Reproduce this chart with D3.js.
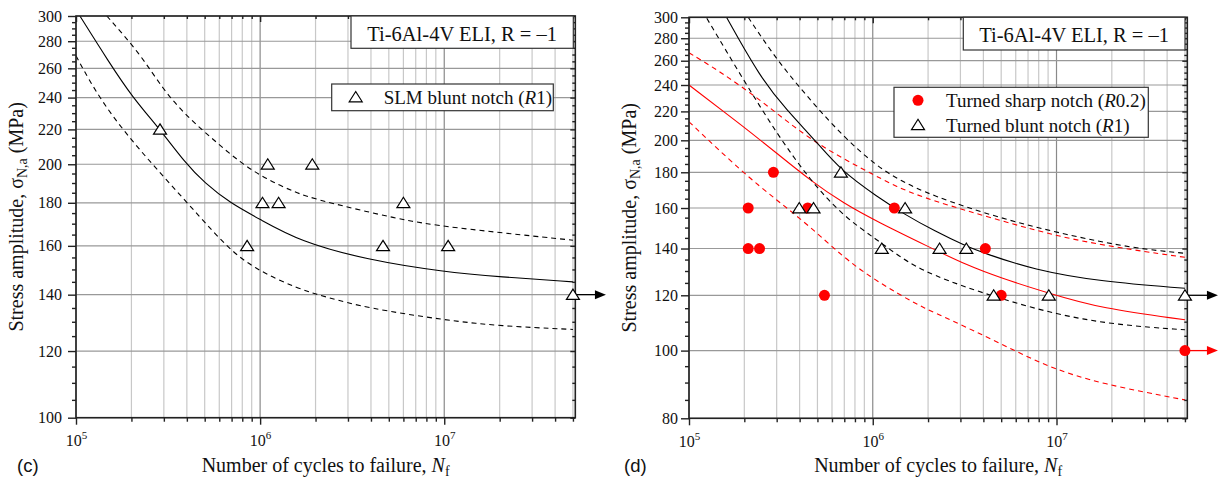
<!DOCTYPE html>
<html>
<head>
<meta charset="utf-8">
<script src="https://cdn.jsdelivr.net/npm/d3@7"></script>
<style>
  body { margin: 0; background: #fff; }
  svg { display: block; }
  text { font-family: "Liberation Serif", "Times New Roman", serif; fill: #111; }
</style>
</head>
<body>
<div id="chart"></div>
<script>
// ---- data ----
var runoutN = 5e7;

// (c) SLM blunt notch (R1)
var slmN = [2.86e5, 1.1e6, 1.92e6, 1.03e6, 1.26e6, 8.5e5, 4.65e6, 1.05e7, 6.0e6, 5e7];
var slmS = [220, 200, 200, 180, 180, 160, 160, 160, 180, 140];
var slmMean  = [[1.05e5,300],[1.5e5,265],[2.03e5,240],[2.86e5,220],[3.9e5,201],[5e5,190],[6.85e5,180],[1e6,172],[1.64e6,162],[3.8e6,154],[1e7,149],[2e7,147],[5e7,145]];
var slmUpper = [[1.47e5,300],[2.22e5,271],[2.98e5,245],[4e5,228],[5.56e5,214],[7.77e5,201],[1.08e6,192],[1.55e6,185.2],[2.02e6,181.5],[5.7e6,172],[1e7,168.5],[5e7,162.5]];
var slmLower = [[1e5,269],[1.35e5,238.5],[2.05e5,212],[3.1e5,191.6],[4.7e5,173.3],[6.57e5,159.7],[9.16e5,150.5],[1.6e6,142.3],[2.3e6,139],[3.8e6,135],[1e7,130.6],[2e7,128.5],[5e7,127.3]];

// (d) Turned sharp notch (R0.2)
var sharpN = [2.1e5, 2.1e5, 2.42e5, 2.88e5, 4.43e5, 5.46e5, 1.31e6, 4.1e6, 5.0e6, 5e7];
var sharpS = [160, 140, 140, 180, 160, 120, 160, 140, 120, 100];
var sharpMean  = [[1e5,240],[1.98e5,209.2],[3e5,191.7],[4.56e5,175.3],[6.93e5,162.5],[1.06e6,152.9],[2.05e6,140.5],[3.25e6,132.5],[4.94e6,127.1],[9.08e6,120.8],[1.75e7,114.9],[5e7,110.7]];
var sharpUpper = [[1e5,266.9],[1.48e5,250.8],[2.44e5,228.5],[3.7e5,209.2],[5.63e5,193.7],[1.06e6,177.3],[1.41e6,170.7],[2.05e6,164.3],[4.94e6,153.5],[1.14e7,144.5],[2.63e7,139.3],[5e7,136]];
var sharpLower = [[1e5,212.6],[1.98e5,179.4],[3e5,164.3],[4.56e5,150.5],[6.93e5,136],[9.7e5,127.5],[1.38e6,120.5],[1.9e6,115],[2.65e6,110.7],[4.94e6,102.4],[9.08e6,94.6],[1.75e7,89.6],[5e7,85]];

// (d) Turned blunt notch (R1)
var bluntN = [3.98e5, 4.76e5, 6.71e5, 1.12e6, 1.5e6, 2.31e6, 3.23e6, 4.55e6, 9.08e6, 5e7];
var bluntS = [160, 160, 180, 140, 160, 140, 140, 120, 120, 120];
var bluntMean  = [[1.6e5,300],[2.44e5,246],[3.4e5,221],[4.86e5,200],[6.71e5,181],[1.06e6,166],[1.5e6,156.5],[2.15e6,148.5],[3.23e6,141],[4e6,138],[7.5e6,130.5],[1.75e7,125.5],[5e7,122.8]];
var bluntUpper = [[2.1e5,300],[3e5,260.7],[4.56e5,228.5],[6.93e5,202.3],[1.06e6,183.3],[1.41e6,175.3],[2.05e6,167],[4.94e6,154.6],[1.14e7,146.4],[2.63e7,140.1],[5e7,137.8]];
var bluntLower = [[1.25e5,299],[1.98e5,244],[3e5,204.6],[4.56e5,175.3],[6.93e5,155.6],[1.06e6,144],[1.41e6,136],[2.05e6,128.4],[4.55e6,119.4],[1.01e7,112.5],[2.14e7,108.8],[5e7,107.1]];

// ticks
var xDomain = [1e5, 5.15e7];
var xDecades = [5, 6, 7];
var yTicksC = [100, 120, 140, 160, 180, 200, 220, 240, 260, 280, 300];
var yTicksD = [80, 100, 120, 140, 160, 180, 200, 220, 240, 260, 280, 300];
var yMinorStep = 5;

var titleText = "Ti-6Al-4V ELI, R = \u20131";

var svg = d3.select("#chart").append("svg")
    .attr("width", 1218)
    .attr("height", 489);

function zip(ns, ss) {
    return ns.map(function(n, i) { return { n: n, s: ss[i] }; });
}

var triangle = {
    draw: function(c) {
        c.moveTo(0, -5.5);
        c.lineTo(6.5, 4.8);
        c.lineTo(-6.5, 4.8);
        c.closePath();
    }
};

function drawPanel(p, idx) {
    var g = svg.append("g");
    var x = d3.scaleLog().domain(xDomain).range([p.left, p.right]);
    var y = d3.scaleLog().domain([p.yMin, 300]).range([p.bottom, p.top]);

    // grid values
    var xAll = [];
    xDecades.forEach(function(k) {
        for (var m = 1; m <= 9; m++) {
            var v = m * Math.pow(10, k);
            if (v >= xDomain[0] && v <= xDomain[1]) xAll.push(v);
        }
    });
    var xMajor = xDecades.map(function(k) { return Math.pow(10, k); });
    var xMinor = xAll.filter(function(v) { return xMajor.indexOf(v) < 0; });
    var yMinor = d3.range(p.yMin, 300 + 0.1, yMinorStep).filter(function(v) { return p.yTicks.indexOf(v) < 0; });

    // gridlines
    g.selectAll(".xgm").data(xMinor).enter().append("line")
        .attr("x1", x).attr("x2", x)
        .attr("y1", p.top).attr("y2", p.bottom)
        .attr("stroke", "#c8c8c8").attr("stroke-width", 1.2);
    g.selectAll(".xgM").data(xMajor).enter().append("line")
        .attr("x1", x).attr("x2", x)
        .attr("y1", p.top).attr("y2", p.bottom)
        .attr("stroke", "#8a8a8a").attr("stroke-width", 1.2);
    g.selectAll(".yg").data(p.yTicks).enter().append("line")
        .attr("x1", p.left).attr("x2", p.right)
        .attr("y1", y).attr("y2", y)
        .attr("stroke", "#999").attr("stroke-width", 1.2);

    // clip
    var clipId = "clip" + idx;
    svg.append("clipPath").attr("id", clipId)
        .append("rect")
        .attr("x", p.left).attr("y", p.top)
        .attr("width", p.right - p.left).attr("height", p.bottom - p.top);

    var line = d3.line()
        .x(function(d) { return x(d[0]); })
        .y(function(d) { return y(d[1]); })
        .curve(d3.curveBasis);

    var cg = g.append("g").attr("clip-path", "url(#" + clipId + ")");
    p.curves.forEach(function(c) {
        cg.append("path")
            .attr("d", line(c.pts))
            .attr("fill", "none")
            .attr("stroke", c.color)
            .attr("stroke-width", 1.1)
            .attr("stroke-dasharray", c.dash ? "5,4" : null);
    });

    // frame
    g.append("rect")
        .attr("x", p.left).attr("y", p.top)
        .attr("width", p.right - p.left).attr("height", p.bottom - p.top)
        .attr("fill", "none").attr("stroke", "#222").attr("stroke-width", 1.6);

    // axes
    function styleAxis(sel) {
        sel.select(".domain").remove();
        sel.selectAll(".tick line").attr("stroke", "#222").attr("stroke-width", 1.4);
    }
    g.append("g").attr("transform", "translate(0," + p.bottom + ")")
        .call(d3.axisBottom(x).tickValues(xMinor).tickSize(4).tickFormat(""))
        .call(styleAxis);
    var xb = g.append("g").attr("transform", "translate(0," + p.bottom + ")")
        .call(d3.axisBottom(x).tickValues(xMajor).tickSize(7).tickFormat(""))
        .call(styleAxis);
    xb.selectAll(".tick").append("text")
        .attr("y", 28.5)
        .attr("text-anchor", "middle")
        .attr("font-size", "16px")
        .each(function(d) {
            var t = d3.select(this);
            t.append("tspan").text("10");
            t.append("tspan").attr("font-size", "11px").attr("dy", -7).text(Math.round(Math.log10(d)));
        });
    // top (inward)
    g.append("g").attr("transform", "translate(0," + p.top + ")")
        .call(d3.axisBottom(x).tickValues(xMinor).tickSize(3).tickFormat(""))
        .call(styleAxis);
    g.append("g").attr("transform", "translate(0," + p.top + ")")
        .call(d3.axisBottom(x).tickValues(xMajor).tickSize(6).tickFormat(""))
        .call(styleAxis);

    // left
    g.append("g").attr("transform", "translate(" + p.left + ",0)")
        .call(d3.axisLeft(y).tickValues(yMinor).tickSize(4).tickFormat(""))
        .call(styleAxis);
    var yl = g.append("g").attr("transform", "translate(" + p.left + ",0)")
        .call(d3.axisLeft(y).tickValues(p.yTicks).tickSize(8).tickPadding(p.yPad).tickFormat(d3.format("d")))
        .call(styleAxis);
    yl.selectAll(".tick text")
        .attr("font-family", "Liberation Serif")
        .attr("font-size", "16px")
        .attr("fill", "#111");
    // right (inward)
    g.append("g").attr("transform", "translate(" + p.right + ",0)")
        .call(d3.axisLeft(y).tickValues(yMinor).tickSize(3).tickFormat(""))
        .call(styleAxis);
    g.append("g").attr("transform", "translate(" + p.right + ",0)")
        .call(d3.axisLeft(y).tickValues(p.yTicks).tickSize(5).tickFormat(""))
        .call(styleAxis);

    // runout arrows
    p.sets.forEach(function(s) {
        s.data.filter(function(d) { return d.n >= runoutN; }).forEach(function(d) {
            var x0 = x(d.n), y0 = y(d.s), tip = x0 + 33;
            g.append("line")
                .attr("x1", x0 + 3).attr("x2", tip - 9)
                .attr("y1", y0).attr("y2", y0)
                .attr("stroke", s.color).attr("stroke-width", 1.3);
            g.append("path")
                .attr("d", "M" + tip + "," + y0 + "L" + (tip - 11) + "," + (y0 - 4.5) + "L" + (tip - 11) + "," + (y0 + 4.5) + "Z")
                .attr("fill", s.color);
        });
    });

    // markers
    p.sets.forEach(function(s) {
        var sel = g.selectAll(".m" + s.key).data(s.data).enter();
        if (s.type === "dot") {
            sel.append("circle")
                .attr("cx", function(d) { return x(d.n); })
                .attr("cy", function(d) { return y(d.s); })
                .attr("r", 5.5)
                .attr("fill", "#f00");
        } else {
            sel.append("path")
                .attr("d", d3.symbol().type(triangle)())
                .attr("transform", function(d) { return "translate(" + x(d.n) + "," + y(d.s) + ")"; })
                .attr("fill", "#fff")
                .attr("stroke", "#000")
                .attr("stroke-width", 1.2);
        }
    });

    // title box
    g.append("rect")
        .attr("x", p.titleBox[0]).attr("y", p.titleBox[1])
        .attr("width", p.titleBox[2]).attr("height", p.titleBox[3])
        .attr("fill", "#fff").attr("stroke", "#333").attr("stroke-width", 1.2);
    g.append("text")
        .attr("x", p.titleBox[0] + p.titleBox[2] / 2)
        .attr("y", p.titleBox[1] + 24.5)
        .attr("text-anchor", "middle")
        .attr("font-size", "20.5px")
        .text(titleText);

    // legend
    var lb = p.legendBox;
    g.append("rect")
        .attr("x", lb[0]).attr("y", lb[1])
        .attr("width", lb[2]).attr("height", lb[3])
        .attr("fill", "#fff").attr("stroke", "#333").attr("stroke-width", 1.2);
    p.sets.forEach(function(s, i) {
        var cy = lb[1] + 13 + i * 24.5;
        var mx = lb[0] + 24;
        if (s.type === "dot") {
            g.append("circle").attr("cx", mx).attr("cy", cy).attr("r", 5.5).attr("fill", "#f00");
        } else {
            g.append("path")
                .attr("d", d3.symbol().type(triangle)())
                .attr("transform", "translate(" + mx + "," + cy + ")")
                .attr("fill", "#fff").attr("stroke", "#000").attr("stroke-width", 1.2);
        }
        var t = g.append("text")
            .attr("x", lb[0] + 52)
            .attr("y", cy + 7)
            .attr("font-size", "19px");
        t.append("tspan").text(s.label[0]);
        t.append("tspan").attr("font-style", "italic").text("R");
        t.append("tspan").text(s.label[1]);
    });

    // axis titles
    var xt = g.append("text")
        .attr("x", (p.left + p.right) / 2)
        .attr("y", 472)
        .attr("text-anchor", "middle")
        .attr("font-size", "20px");
    xt.append("tspan").text("Number of cycles to failure, ");
    xt.append("tspan").attr("font-style", "italic").text("N");
    xt.append("tspan").attr("font-size", "14px").attr("dy", 4).text("f");

    var yt = g.append("text")
        .attr("transform", "translate(" + p.yTitleX + "," + ((p.top + p.bottom) / 2) + ") rotate(-90)")
        .attr("text-anchor", "middle")
        .attr("font-size", "20px");
    yt.append("tspan").text("Stress amplitude, \u03c3");
    yt.append("tspan").attr("font-size", "14px").attr("dy", 4).text("N,a");
    yt.append("tspan").attr("dy", -4).text(" (MPa)");

    // panel letter
    g.append("text")
        .attr("x", p.letterX)
        .attr("y", 472)
        .style("font-family", "'Liberation Sans', Arial, sans-serif")
        .attr("font-size", "18.5px")
        .text("(" + p.id + ")");
}

var panels = [
    {
        id: "c", left: 76, right: 575.3, top: 16, bottom: 417.7, yMin: 100,
        yTicks: yTicksC, yPad: 6, yTitleX: 23, letterX: 17,
        titleBox: [351, 16, 222.3, 32.3],
        legendBox: [331.7, 84, 221.6, 26.7],
        curves: [
            { pts: slmMean, color: "#000", dash: false },
            { pts: slmUpper, color: "#000", dash: true },
            { pts: slmLower, color: "#000", dash: true }
        ],
        sets: [
            { key: "slm", type: "tri", color: "#000", data: zip(slmN, slmS), label: ["SLM blunt notch (", "1)"] }
        ]
    },
    {
        id: "d", left: 689, right: 1187.3, top: 17.3, bottom: 418.3, yMin: 80,
        yTicks: yTicksD, yPad: 3, yTitleX: 636, letterX: 624,
        titleBox: [963.3, 17.3, 221.7, 32.7],
        legendBox: [894, 87.3, 254.3, 50],
        curves: [
            { pts: sharpUpper, color: "#f00", dash: true },
            { pts: sharpLower, color: "#f00", dash: true },
            { pts: sharpMean, color: "#f00", dash: false },
            { pts: bluntUpper, color: "#000", dash: true },
            { pts: bluntLower, color: "#000", dash: true },
            { pts: bluntMean, color: "#000", dash: false }
        ],
        sets: [
            { key: "sharp", type: "dot", color: "#f00", data: zip(sharpN, sharpS), label: ["Turned sharp notch (", "0.2)"] },
            { key: "blunt", type: "tri", color: "#000", data: zip(bluntN, bluntS), label: ["Turned blunt notch (", "1)"] }
        ]
    }
];

panels.forEach(drawPanel);
</script>
</body>
</html>
